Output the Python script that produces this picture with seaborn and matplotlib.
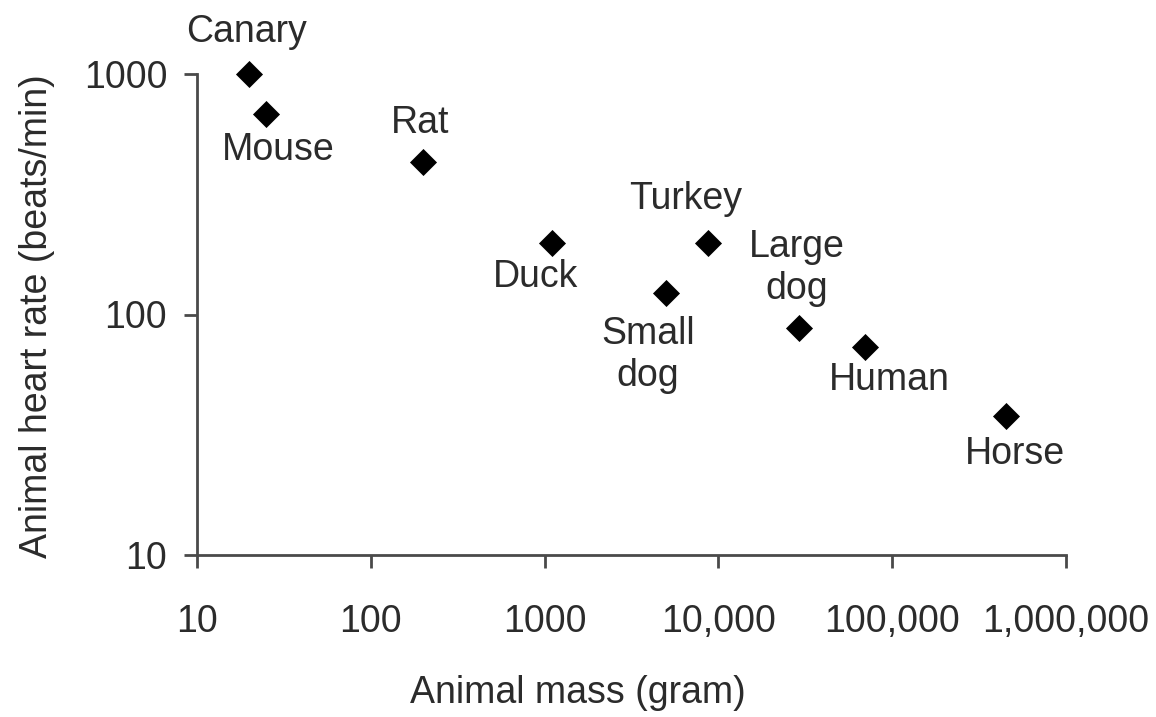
import matplotlib
matplotlib.use("Agg")
import matplotlib.pyplot as plt
import seaborn as sns
import pandas as pd
from matplotlib.ticker import FixedLocator, FixedFormatter, NullLocator

# Body mass (g) and resting heart rate (beats/min) for each animal
animals = ["Canary", "Mouse", "Rat", "Duck", "Small\ndog", "Turkey", "Large\ndog", "Human", "Horse"]
mass_g = [20, 25, 200, 1100, 5000, 8700, 29000, 70000, 450000]
heart_rate = [1000, 680, 430, 198, 123, 199, 88, 73, 38]

# Label offsets from each marker, in pixels
label_dx = [-3, 12, -3, -16, -18, -22, -2, 24, 9]
label_dy = [42, -36, 39, -34, -62, 44, 60, -33, -38]

x_ticks = [10, 100, 1000, 10000, 100000, 1000000]
x_ticklabels = ["10", "100", "1000", "10,000", "100,000", "1,000,000"]
y_ticks = [10, 100, 1000]
y_ticklabels = ["10", "100", "1000"]

df = pd.DataFrame({"animal": animals, "mass": mass_g, "rate": heart_rate})

sns.set_theme(style="ticks")
plt.rcParams["font.family"] = ["Liberation Sans", "DejaVu Sans"]

text_color = "#2b2b2b"
axis_color = "#4a4a4a"
fs = 27

fig = plt.figure(figsize=(11.56, 7.17), dpi=100)
ax = fig.add_axes([197 / 1156, 1 - 555 / 717, (1066 - 197) / 1156, (555 - 74) / 717])

sns.scatterplot(data=df, x="mass", y="rate", marker="D", s=190, color="black",
                edgecolor="black", linewidth=0, ax=ax, clip_on=False, zorder=3)

ax.set_xscale("log")
ax.set_yscale("log")
ax.set_xlim(10, 1e6)
ax.set_ylim(10, 1000)

ax.xaxis.set_major_locator(FixedLocator(x_ticks))
ax.xaxis.set_major_formatter(FixedFormatter(x_ticklabels))
ax.xaxis.set_minor_locator(NullLocator())
ax.yaxis.set_major_locator(FixedLocator(y_ticks))
ax.yaxis.set_major_formatter(FixedFormatter(y_ticklabels))
ax.yaxis.set_minor_locator(NullLocator())

sns.despine(ax=ax)
for side in ("left", "bottom"):
    ax.spines[side].set_color(axis_color)
    ax.spines[side].set_linewidth(2.0)

ax.tick_params(axis="both", which="major", length=9.5, width=2.0, color=axis_color,
               labelsize=fs, labelcolor=text_color)
ax.tick_params(axis="x", pad=26)
ax.tick_params(axis="y", pad=12)

ax.set_xlabel("Animal mass (gram)", fontsize=fs, color=text_color)
ax.set_ylabel("Animal heart rate (beats/min)", fontsize=fs, color=text_color)
ax.xaxis.set_label_coords(0.4385, -0.287)
ax.xaxis.label.set_va("center")
ax.yaxis.set_label_coords(-0.184, 0.497)
ax.yaxis.label.set_va("center")
ax.yaxis.label.set_ha("center")

for name, x, y, dx, dy in zip(animals, mass_g, heart_rate, label_dx, label_dy):
    ax.annotate(name, xy=(x, y), xytext=(dx, dy), textcoords="offset pixels",
                ha="center", va="center", fontsize=fs, color=text_color,
                linespacing=1.2, annotation_clip=False)

fig.savefig("out.png", dpi=100, facecolor="white")
